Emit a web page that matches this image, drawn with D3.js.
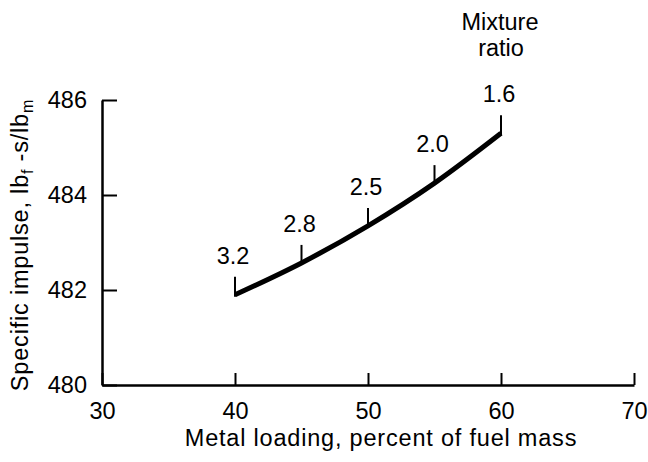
<!DOCTYPE html>
<html>
<head>
<meta charset="utf-8">
<script src="https://cdn.jsdelivr.net/npm/d3@7"></script>
<style>
  html, body { margin: 0; padding: 0; background: #fff; }
  svg { display: block; }
  text { font-family: "Liberation Sans", Arial, Helvetica, sans-serif; fill: #000; }
</style>
</head>
<body>
<svg id="chart" width="648" height="462"></svg>
<script>
// Data
const metalLoading = [40, 45, 50, 55, 60];
const specificImpulse = [481.9, 482.57, 483.35, 484.25, 485.3];
const mixtureRatio = ["3.2", "2.8", "2.5", "2.0", "1.6"];
const xTicks = [30, 40, 50, 60, 70];
const yTicks = [480, 482, 484, 486];

const FS = 23.5;
const svg = d3.select("#chart");
const x = d3.scaleLinear().domain([30, 70]).range([102, 634]);
const y = d3.scaleLinear().domain([480, 486]).range([385, 100]);

// X axis
const xAxis = svg.append("g")
  .attr("transform", `translate(0,${y(480)})`)
  .call(d3.axisBottom(x).tickValues(xTicks).tickSizeInner(-12).tickSizeOuter(0).tickPadding(17).tickFormat(d3.format("d")));
xAxis.select(".domain").attr("stroke", "#000").attr("stroke-width", 2.5);
xAxis.selectAll(".tick line").attr("stroke", "#000").attr("stroke-width", 2);
xAxis.selectAll(".tick text").attr("font-size", FS).attr("font-family", "Liberation Sans, Arial, sans-serif");

// Y axis
const yAxis = svg.append("g")
  .attr("transform", `translate(${x(30)},0)`)
  .call(d3.axisLeft(y).tickValues(yTicks).tickSizeInner(-15).tickSizeOuter(0).tickPadding(15).tickFormat(d3.format("d")));
yAxis.select(".domain").attr("stroke", "#000").attr("stroke-width", 2.5);
yAxis.selectAll(".tick line").attr("stroke", "#000").attr("stroke-width", 2);
yAxis.selectAll(".tick text").attr("font-size", FS).attr("font-family", "Liberation Sans, Arial, sans-serif");

// Curve
const pts = metalLoading.map((m, i) => ({ m, v: specificImpulse[i], r: mixtureRatio[i] }));
svg.append("path")
  .datum(pts)
  .attr("fill", "none")
  .attr("stroke", "#000")
  .attr("stroke-width", 5)
  .attr("stroke-linecap", "butt")
  .attr("d", d3.line().x(d => x(d.m)).y(d => y(d.v)).curve(d3.curveMonotoneX));

// Mixture ratio ticks and labels
svg.selectAll(".mr-tick").data(pts).enter().append("line")
  .attr("x1", d => x(d.m)).attr("x2", d => x(d.m))
  .attr("y1", d => y(d.v) + 2).attr("y2", d => y(d.v) - 18)
  .attr("stroke", "#000").attr("stroke-width", 2);
svg.selectAll(".mr-label").data(pts).enter().append("text")
  .attr("x", d => x(d.m) - 2)
  .attr("y", d => y(d.v) - 31)
  .attr("text-anchor", "middle")
  .attr("font-size", FS)
  .text(d => d.r);

// Mixture ratio header
svg.append("text").attr("x", 500).attr("y", 30).attr("text-anchor", "middle").attr("font-size", FS).text("Mixture");
svg.append("text").attr("x", 501).attr("y", 56).attr("text-anchor", "middle").attr("font-size", FS).text("ratio");

// Axis titles
svg.append("text")
  .attr("x", 381).attr("y", 446)
  .attr("text-anchor", "middle").attr("font-size", FS)
  .attr("letter-spacing", 0.8)
  .text("Metal loading, percent of fuel mass");

const yt = svg.append("text")
  .attr("transform", "translate(28,245) rotate(-90)")
  .attr("text-anchor", "middle").attr("font-size", FS)
  .attr("letter-spacing", 0.8);
yt.append("tspan").text("Specific impulse, lb");
yt.append("tspan").attr("font-size", 16).attr("dy", 5).text("f");
yt.append("tspan").attr("dy", -5).text(" -s/lb");
yt.append("tspan").attr("font-size", 16).attr("dy", 5).text("m");
</script>
</body>
</html>
